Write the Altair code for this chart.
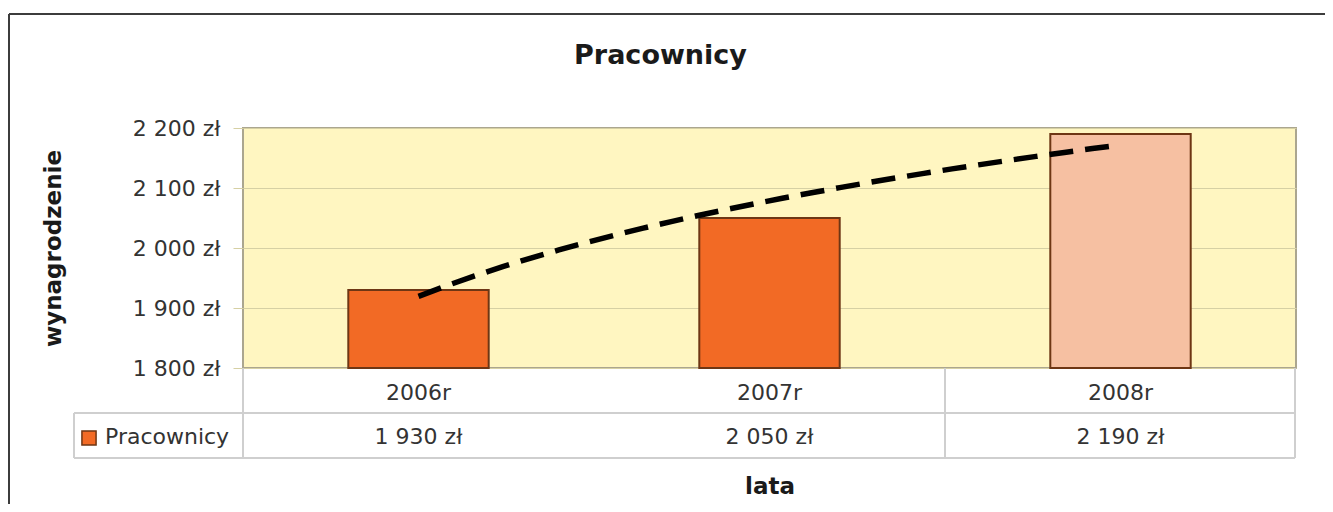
import altair as alt
import pandas as pd

# ---- data ----
years = ["2006r", "2007r", "2008r"]
salaries = [1930, 2050, 2190]
series_name = "Pracownicy"
y_ticks = [1800, 1900, 2000, 2100, 2200]
chart_title = "Pracownicy"
y_title = "wynagrodzenie"
x_title = "lata"
highlight_year = "2008r"

df = pd.DataFrame({"rok": years, "wynagrodzenie": salaries})
one = pd.DataFrame({"k": [0]})

# ---- style ----
W, H = 1053, 240
FONT = "DejaVu Sans"
ORANGE = "#F26A25"
PALE = "#F6C0A2"
EDGE = "#6E3614"
GRIDC = "#D6D0A4"
TABLEC = "#CFCFCF"
TXT = "#333333"
DARK = "#1a1a1a"
ZL = "replace(format(datum.value, ',.0f'), ',', ' ') + ' zł'"

band = alt.Scale(type="band", paddingInner=0.6, paddingOuter=0.3)

x_band = alt.X(
    "rok:N", sort=years, scale=band,
    axis=alt.Axis(title=x_title, labelFontSize=22, labelFont=FONT, labelColor=TXT,
                  labelPadding=14, ticks=False, domain=False, labelAngle=0,
                  titleFont=FONT, titleFontSize=23, titleFontWeight="bold",
                  titlePadding=72, titleColor=DARK))

y_enc = alt.Y(
    "wynagrodzenie:Q",
    scale=alt.Scale(domain=[y_ticks[0], y_ticks[-1]], nice=False, zero=False),
    axis=alt.Axis(values=y_ticks, labelExpr=ZL, labelFontSize=22, labelFont=FONT,
                  labelColor=TXT, labelPadding=13, tickSize=10, tickColor=GRIDC,
                  domain=False, grid=True, gridColor=GRIDC, gridWidth=1,
                  title=y_title, titleFont=FONT, titleFontSize=23,
                  titleFontWeight="bold", titlePadding=67, titleColor=DARK))

base = alt.Chart(df)

bars = base.mark_bar(stroke=EDGE, strokeWidth=2).encode(
    x=x_band, y=y_enc, y2=alt.datum(y_ticks[0]),
    fill=alt.condition(alt.datum.rok == highlight_year, alt.value(PALE), alt.value(ORANGE)),
)

values_txt = base.transform_calculate(
    lab="replace(format(datum.wynagrodzenie, ',.0f'), ',', ' ') + ' zł'"
).mark_text(font=FONT, fontSize=22, color=TXT, baseline="middle").encode(
    x=x_band,
    y=alt.value(309),
    text="lab:N",
)


def hline(y, x1, x2, color, w=2):
    return alt.Chart(one).mark_rule(color=color, strokeWidth=w).encode(
        y=alt.value(y), x=alt.value(x1), x2=alt.value(x2))


def vline(x, y1, y2, color, w=2):
    return alt.Chart(one).mark_rule(color=color, strokeWidth=w).encode(
        x=alt.value(x), y=alt.value(y1), y2=alt.value(y2))


table = [
    hline(285, -169, 1052, TABLEC),
    hline(330, -169, 1052, TABLEC),
    vline(-169, 285, 330, TABLEC),
    vline(0, 240, 330, TABLEC),
    vline(702, 240, 330, TABLEC),
    vline(1052, 240, 330, TABLEC),
]

border = [
    hline(-114, -234, 1100, "#3c3c3c"),
    vline(-234, -114, 420, "#3c3c3c"),
]

legend_sq = alt.Chart(one).mark_point(shape="square", size=200, filled=True,
                                      fill=ORANGE, stroke=EDGE, strokeWidth=1.5,
                                      opacity=1).encode(
    x=alt.value(-154), y=alt.value(310))
legend_txt = alt.Chart(pd.DataFrame({"s": [series_name]})).mark_text(
    font=FONT, fontSize=22, color=TXT, align="left", baseline="middle").encode(
    x=alt.value(-138), y=alt.value(309), text="s:N")

inner = alt.layer(*table, *border, bars, values_txt, legend_sq, legend_txt)

trend = base.transform_window(
    idx="row_number()", sort=[alt.SortField("rok")]
).transform_regression("idx", "wynagrodzenie", method="log").mark_line(
    color="black", strokeWidth=5.5, strokeDash=[24, 12]
).encode(
    x=alt.X("idx:Q", scale=alt.Scale(domain=[0.5, 3.5], nice=False, zero=False), axis=None),
    y=y_enc,
)

chart = alt.layer(inner, trend).resolve_scale(x="independent").properties(
    width=W, height=H,
    title=alt.TitleParams(chart_title, font=FONT, fontSize=27, fontWeight="bold",
                          color=DARK, anchor="middle", dx=-109, offset=0, dy=57),
    padding={"left": 235, "top": 120, "right": 29, "bottom": 136},
    autosize=alt.AutoSizeParams(type="none"),
).configure_view(fill="#FFF6C1", stroke="#ABA68F", strokeWidth=2)

chart.save("out.html", embed_options={"renderer": "svg", "actions": False})
